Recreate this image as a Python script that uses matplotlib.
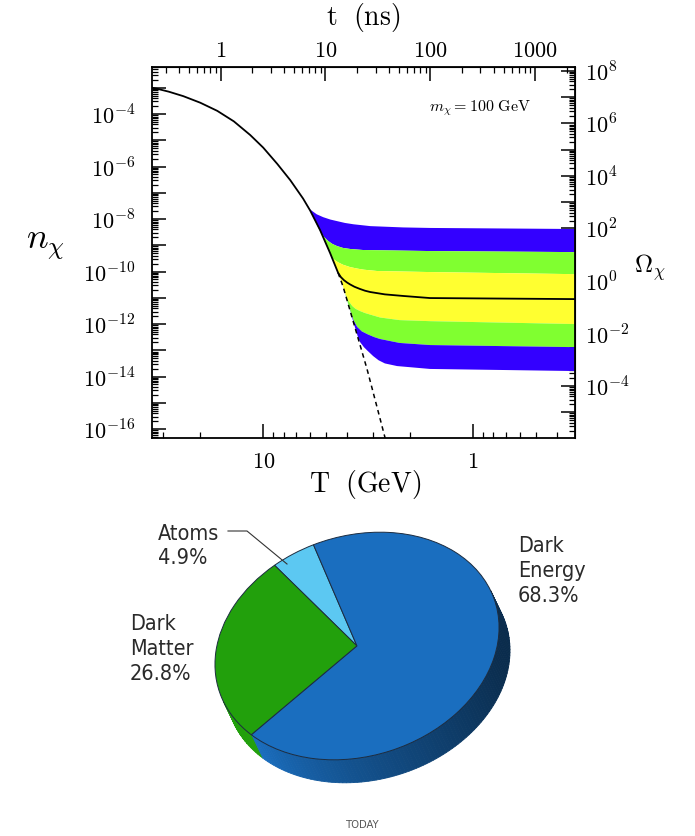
import matplotlib
matplotlib.use('Agg')
import matplotlib.pyplot as plt
import numpy as np
from matplotlib.ticker import LogLocator, FuncFormatter, NullFormatter
from matplotlib.transforms import Affine2D
from matplotlib.patches import Polygon

plt.rcParams['mathtext.fontset'] = 'cm'
plt.rcParams['font.family'] = 'DejaVu Serif'

# ---------------- Dados: painel de cima (log10) ----------------
# curva de equilibrio n_chi(T)
eq_logT = np.array([1.53, 1.505, 1.45, 1.381, 1.30, 1.219, 1.14, 1.062, 1.00, 0.933,
                    0.871, 0.810, 0.776, 0.729, 0.681, 0.643, 0.619, 0.571, 0.505, 0.457, 0.419])
eq_logn = np.array([-3.00, -3.04, -3.15, -3.32, -3.57, -3.88, -4.28, -4.80, -5.28, -5.90,
                    -6.52, -7.22, -7.68, -8.42, -9.30, -10.05, -10.58, -11.90, -13.72, -15.18, -16.34])

# bordas das faixas depois do desacoplamento (de cima para baixo)
b1_logT = [0.776, 0.745, 0.714, 0.68, 0.648, 0.61, 0.57, 0.490, 0.333, 0.205, -0.486]
b1_logn = [-7.64, -7.82, -7.93, -8.02, -8.08, -8.15, -8.20, -8.27, -8.32, -8.34, -8.38]
b2_logT = [0.729, 0.71, 0.69, 0.67, 0.648, 0.62, 0.586, 0.524, 0.205, -0.486]
b2_logn = [-8.46, -8.68, -8.84, -8.95, -9.03, -9.10, -9.14, -9.18, -9.22, -9.26]
b3_logT = [0.67, 0.645, 0.62, 0.586, 0.55, 0.52, 0.457, 0.205, -0.486]
b3_logn = [-9.50, -9.64, -9.74, -9.83, -9.89, -9.93, -9.98, -10.02, -10.10]
mid_logT = [0.643, 0.63, 0.615, 0.60, 0.586, 0.565, 0.54, 0.515, 0.490, 0.42, 0.333, 0.205, -0.486]
mid_logn = [-10.05, -10.21, -10.33, -10.42, -10.49, -10.58, -10.66, -10.73, -10.78, -10.87, -10.93, -11.01, -11.05]
b4_logT = [0.61, 0.595, 0.576, 0.56, 0.54, 0.515, 0.490, 0.443, 0.35, 0.205, -0.486]
b4_logn = [-10.82, -11.10, -11.31, -11.42, -11.50, -11.58, -11.64, -11.75, -11.85, -11.89, -12.00]
b5_logT = [0.585, 0.57, 0.552, 0.53, 0.50, 0.47, 0.443, 0.35, 0.205, -0.486]
b5_logn = [-11.50, -11.85, -12.11, -12.28, -12.40, -12.50, -12.57, -12.72, -12.80, -12.88]
b6_logT = [0.56, 0.548, 0.538, 0.52, 0.505, 0.476, 0.45, 0.42, 0.362, 0.205, -0.486]
b6_logn = [-12.20, -12.50, -12.69, -12.88, -13.00, -13.22, -13.38, -13.50, -13.60, -13.71, -13.79]

band_colors = ['#3300ff', '#80ff30', '#ffff30', '#80ff30', '#3300ff']

t_ticks = [1, 10, 100, 1000]
T_ticks = [10, 1]
t_coef = 255.0          # t(ns) = t_coef / T^2
omega_coef = 10**10.36  # Omega = omega_coef * n

# ---------------- Dados: pizza ----------------
pie_names = ['Atoms\n4.9%', 'Dark\nMatter\n26.8%', 'Dark\nEnergy\n68.3%']
pie_shares = [4.9, 26.8, 68.3]
pie_colors = ['#5cc8f2', '#22a00c', '#1a6ebf']


def curve(tail_logT, tail_logn):
    keep = eq_logT > tail_logT[0]
    lt = np.r_[eq_logT[keep], tail_logT]
    ln = np.r_[eq_logn[keep], tail_logn]
    return 10.0 ** lt, 10.0 ** ln


fig = plt.figure(figsize=(6.95, 8.37), dpi=100)

# ---------------- pizza 3D (eixo em pixels) ----------------
ax2 = fig.add_axes([0, 0, 1, 1])
cx, cy = 357, 837 - 647
ea, eb, rot = 145, 110, 18
ddx, ddy = 11, -23
start = 94
R = np.array([[np.cos(np.radians(rot)), -np.sin(np.radians(rot))],
              [np.sin(np.radians(rot)), np.cos(np.radians(rot))]])


def ell(t):
    t = np.radians(t)
    p = R @ np.array([ea * np.cos(t), eb * np.sin(t)])
    return p + np.array([cx, cy])


bounds = start + 3.6 * np.cumsum([0] + pie_shares)
ths = np.linspace(0, 360, 241)
for t1, t2 in zip(ths[:-1], ths[1:]):
    tm = 0.5 * (t1 + t2)
    nrm = R @ np.array([np.cos(np.radians(tm)) / ea, np.sin(np.radians(tm)) / eb])
    nrm = nrm / np.hypot(*nrm)
    if nrm[0] * ddx + nrm[1] * ddy <= 0:
        continue
    k = int(np.searchsorted(bounds, (tm - start) % 360 + start, side='right')) - 1
    k = min(max(k, 0), 2)
    base = np.array(matplotlib.colors.to_rgb(pie_colors[k]))
    f = np.clip(0.78 - 0.38 * nrm[0], 0.35, 1.0)
    p1, p2 = ell(t1), ell(t2)
    d = np.array([ddx, ddy])
    ax2.add_patch(Polygon([p1, p2, p2 + d, p1 + d], closed=True,
                          facecolor=base * f, edgecolor=base * f, lw=0.6, zorder=1))

wedges, _ = ax2.pie(pie_shares, colors=pie_colors, startangle=start, counterclock=True,
                    radius=1, center=(0, 0),
                    wedgeprops=dict(edgecolor='#1c2c40', linewidth=0.7))
aff = Affine2D().scale(ea, eb).rotate_deg(rot).translate(cx, cy)
for w in wedges:
    w.set_transform(aff + ax2.transData)
    w.set_zorder(3)

ax2.set_xlim(0, 695)
ax2.set_ylim(0, 837)
ax2.set_aspect('auto')
ax2.axis('off')

lab_font = dict(family='DejaVu Sans', fontstretch='condensed',
                fontsize=15.5, color='#2a2a2a', linespacing=1.3)
ax2.text(158, 837 - 546, pie_names[0], ha='left', va='center', **lab_font)
ax2.text(130, 837 - 649, pie_names[1], ha='left', va='center', **lab_font)
ax2.text(518, 837 - 571, pie_names[2], ha='left', va='center', **lab_font)
ax2.plot([228, 247, 287], [837 - 532, 837 - 532, 837 - 565], color='#333333', lw=0.8, zorder=4)
ax2.text(363, 837 - 825, 'TODAY', ha='center', va='center', fontsize=8,
         family='DejaVu Sans', fontstretch='condensed', color='#555555')

# ---------------- painel de cima ----------------
ax = fig.add_axes([152 / 695, 1 - 439 / 837, 423 / 695, 371 / 837])
ax.set_xscale('log')
ax.set_yscale('log')

tails = [(b1_logT, b1_logn), (b2_logT, b2_logn), (b3_logT, b3_logn),
         (b4_logT, b4_logn), (b5_logT, b5_logn), (b6_logT, b6_logn)]
curves = [curve(np.array(a), np.array(b)) for a, b in tails]
for (xu, yu), (xl, yl), c in zip(curves[:-1], curves[1:], band_colors):
    ax.fill(np.r_[xu, xl[::-1]], np.r_[yu, yl[::-1]], color=c, lw=0, zorder=1)

xm, ym = curve(np.array(mid_logT), np.array(mid_logn))
ax.plot(xm, ym, color='black', lw=1.3, zorder=3)
dash = eq_logT <= mid_logT[0]
ax.plot(np.r_[10.0 ** mid_logT[0], 10.0 ** eq_logT[dash]],
        np.r_[10.0 ** mid_logn[0], 10.0 ** eq_logn[dash]], color='black', lw=1.1,
        ls=(0, (3, 2.5)), zorder=3)

ax.set_xlim(10 ** 1.53, 10 ** -0.486)
ax.set_ylim(10 ** -16.34, 10 ** -2.21)

tick_kw = dict(direction='in', width=1.1, labelsize=16)
ax.tick_params(axis='both', which='major', length=10, **tick_kw)
ax.tick_params(axis='both', which='minor', length=4, direction='in', width=0.9)
ax.tick_params(axis='y', which='major', pad=12)
ax.tick_params(axis='x', which='major', pad=9)

ax.yaxis.set_major_locator(LogLocator(base=10, numticks=40))
ax.yaxis.set_minor_locator(LogLocator(base=10, subs=np.arange(2, 10), numticks=200))
even_exp = FuncFormatter(lambda v, p: (r'$10^{%d}$' % round(np.log10(v))
                                        if round(np.log10(v)) % 2 == 0 else ''))
ax.yaxis.set_major_formatter(even_exp)
ax.yaxis.set_minor_formatter(NullFormatter())

ax.set_xticks(T_ticks, labels=[r'$%g$' % v for v in T_ticks])
ax.xaxis.set_minor_locator(LogLocator(base=10, subs=np.arange(2, 10), numticks=50))
ax.xaxis.set_minor_formatter(NullFormatter())

for s in ax.spines.values():
    s.set_linewidth(1.3)

secx = ax.secondary_xaxis('top', functions=(lambda T: t_coef / np.maximum(np.asarray(T, float), 1e-12) ** 2,
                                            lambda t: np.sqrt(t_coef / np.maximum(np.asarray(t, float), 1e-12))))
secx.set_xticks(t_ticks, labels=[r'$%g$' % v for v in t_ticks])
secx.xaxis.set_minor_locator(LogLocator(base=10, subs=np.arange(2, 10), numticks=50))
secx.xaxis.set_minor_formatter(NullFormatter())
secx.tick_params(which='major', length=10, pad=4, **tick_kw)
secx.tick_params(which='minor', length=4, direction='in', width=0.9)

secy = ax.secondary_yaxis('right', functions=(lambda n: np.asarray(n, float) * omega_coef,
                                              lambda o: np.asarray(o, float) / omega_coef))
secy.yaxis.set_major_locator(LogLocator(base=10, numticks=40))
secy.yaxis.set_major_formatter(even_exp)
secy.yaxis.set_minor_locator(LogLocator(base=10, subs=np.arange(2, 10), numticks=200))
secy.yaxis.set_minor_formatter(NullFormatter())
secy.tick_params(which='major', length=10, pad=7, **tick_kw)
secy.tick_params(which='minor', length=4, direction='in', width=0.9)

ax.text(0.775, 0.892, r'$m_\chi = 100\ \mathrm{GeV}$', transform=ax.transAxes,
        ha='center', va='center', fontsize=11.5)

fig.text(363 / 695, 1 - 18 / 837, r'$\mathrm{t\ \ (ns)}$', ha='center', va='center', fontsize=20)
fig.text(365 / 695, 1 - 485 / 837, r'$\mathrm{T\ \ (GeV)}$', ha='center', va='center', fontsize=20)
fig.text(45 / 695, 1 - 245 / 837, r'$n_\chi$', ha='center', va='center', fontsize=26)
fig.text(650 / 695, 1 - 268 / 837, r'$\Omega_\chi$', ha='center', va='center', fontsize=18)

fig.savefig('out.png', dpi=100, facecolor='white')
